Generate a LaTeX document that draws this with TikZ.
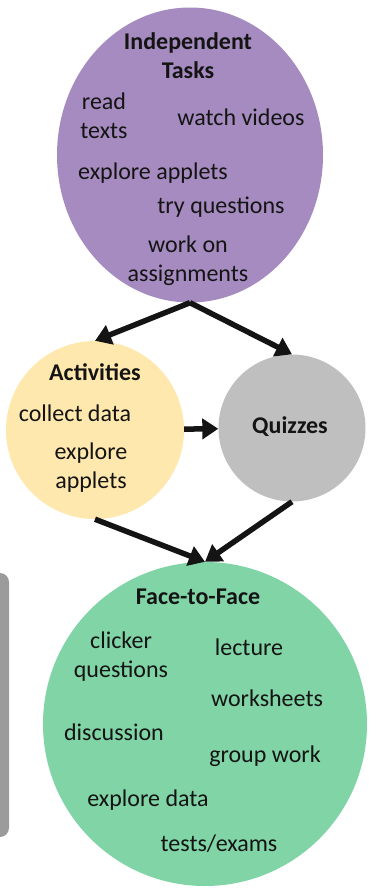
\documentclass[tikz,border=0pt]{standalone}
\usepackage{fontspec}
\setmainfont{Carlito}
\usetikzlibrary{arrows.meta,shapes.geometric}

\definecolor{indep}{HTML}{A58BBF}
\definecolor{activ}{HTML}{FFE8AD}
\definecolor{quiz}{HTML}{BFBFBF}
\definecolor{face}{HTML}{80D4A6}
\definecolor{sidebar}{HTML}{9B9B9B}
\definecolor{ink}{HTML}{141414}

\tikzset{
  blob/.style={circle, inner sep=0pt, draw=none},
  item/.style={text=ink, align=center, inner sep=0pt,
    font=\fontsize{24}{29}\selectfont},
  head/.style={item, font=\fontsize{24}{29}\selectfont\bfseries},
  flow/.style={line width=5.5pt, -{Triangle[length=16pt,width=20pt]}, ink},
}

\begin{document}
\begin{tikzpicture}[x=1pt,y=-1pt]
  \useasboundingbox (0,0) rectangle (376,888);
  \clip (0,0) rectangle (376,888);

  % partially visible panel at the left edge
  \fill[sidebar, rounded corners=9pt] (-30,573) rectangle (9,837);

  % the four stages
  \node[ellipse, inner sep=0pt, fill=indep, minimum width=266pt, minimum height=295pt] (indep) at (190,155) {};
  \node[blob, fill=activ, minimum size=178pt] (activ) at (95,430) {};
  \node[blob, fill=quiz, minimum size=147pt] (quiz) at (292,428) {};
  \node[blob, fill=face, minimum size=324pt] (face) at (205,724) {};

  % Independent Tasks
  \node[head] (t1) at (188,56) {Independent\\Tasks};
  \node[item] (t2) at (104,116) {read\\texts};
  \node[item] (t3) at (241,117) {watch videos};
  \node[item] (t4) at (153,173) {explore applets};
  \node[item] (t5) at (221,207) {try questions};
  \node[item] (t6) at (188,261) {work on\\assignments};

  % Activities
  \node[head] (a1) at (95,372) {Activities};
  \node[item] (a2) at (75,413) {collect data};
  \node[item] (a3) at (91,468) {explore\\applets};

  % Quizzes
  \node[head] (q1) at (290,427) {Quizzes};

  % Face-to-Face
  \node[head] (f1) at (198,597) {Face-to-Face};
  \node[item] (f2) at (121,657) {clicker\\questions};
  \node[item] (f3) at (249,647) {lecture};
  \node[item] (f4) at (267,698) {worksheets};
  \node[item] (f5) at (114,732) {discussion};
  \node[item] (f6) at (265,756) {group work};
  \node[item] (f7) at (148,800) {explore data};
  \node[item] (f8) at (219,844) {tests/exams};

  % connectors
  \draw[flow] (indep.south) -- (activ.north);
  \draw[flow] (indep.south) -- (quiz.north);
  \draw[flow] (activ) -- (quiz);
  \draw[flow] (activ.south) -- (face.north);
  \draw[flow] (quiz.south) -- (face.north);
\end{tikzpicture}
\end{document}
